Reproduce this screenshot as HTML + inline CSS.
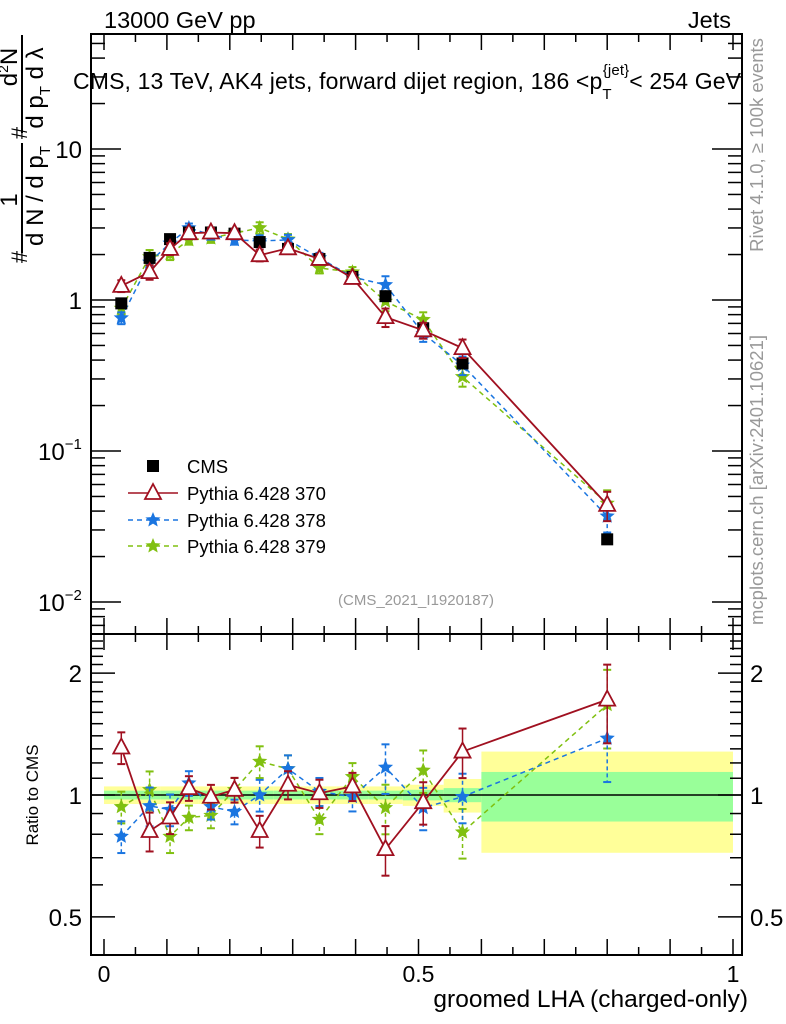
<!DOCTYPE html>
<html><head><meta charset="utf-8"><style>
html,body{margin:0;padding:0;background:#fff;}
svg{display:block;font-family:"Liberation Sans",sans-serif;}
</style></head><body>
<svg id="c" width="786" height="1024" viewBox="0 0 786 1024" xmlns="http://www.w3.org/2000/svg">
<g id="bands"></g><g id="axes"></g><g id="marks"></g><g id="labels"></g>
</svg>
<script>
const binEdges=[0,0.055,0.09,0.12,0.15,0.19,0.225,0.27,0.315,0.37,0.42,0.475,0.54,0.6,1.0];
const cmsVals=[0.95,1.9,2.53,2.8,2.8,2.75,2.42,2.18,1.87,1.42,1.06,0.65,0.38,0.026];
const p370Vals=[1.24,1.53,2.18,2.77,2.8,2.77,1.98,2.2,1.87,1.4,0.77,0.63,0.48,0.044];
const p378Vals=[0.76,1.78,2.38,3.0,2.7,2.5,2.46,2.5,1.9,1.42,1.26,0.6,0.37,0.037];
const p379Vals=[0.88,1.93,2.02,2.5,2.57,2.77,3.0,2.53,1.63,1.53,0.98,0.74,0.31,0.045];
const r370=[1.31,0.815,0.88,1.04,0.99,1.03,0.815,1.06,1.01,1.05,0.735,0.96,1.28,1.72];
const r378=[0.79,0.94,0.92,1.07,0.935,0.91,1.0,1.16,1.02,0.99,1.17,0.93,0.99,1.38];
const r379=[0.935,1.03,0.79,0.88,0.89,1.03,1.21,1.16,0.87,1.11,0.93,1.15,0.81,1.67];
const relErr=[0.09,0.11,0.09,0.07,0.07,0.07,0.09,0.08,0.08,0.08,0.14,0.12,0.14,0.22];
const bandTot=[0.05,0.05,0.05,0.05,0.05,0.05,0.05,0.05,0.05,0.05,0.05,0.06,0.095,0.28];
const bandStat=[0.025,0.025,0.025,0.025,0.025,0.025,0.025,0.025,0.025,0.025,0.025,0.03,0.04,0.14];

const L=91,R=742,T=34,MB=634,RB=955;
const X=v=>104+v*629;
const Y=v=>300-Math.log10(v)*151;
const RY=v=>795-Math.log10(v)*405;
const NS="http://www.w3.org/2000/svg";
function mk(tag,attrs,parent,txt){const e=document.createElementNS(NS,tag);for(const k in attrs)e.setAttribute(k,attrs[k]);if(txt!==undefined)e.textContent=txt;document.getElementById(parent).appendChild(e);return e;}

for(let i=0;i<binEdges.length-1;i++){
  const x0=X(binEdges[i]),x1=X(binEdges[i+1]);
  let e=mk('rect',{x:x0,y:RY(1+bandTot[i]),width:x1-x0,height:RY(1-bandTot[i])-RY(1+bandTot[i]),fill:'#ffff99'},'bands');
  
  
  e=mk('rect',{x:x0,y:RY(1+bandStat[i]),width:x1-x0,height:RY(1-bandStat[i])-RY(1+bandStat[i]),fill:'#99ff99'},'bands');
  
  
}
let f=mk('rect',{x:L,y:T,width:R-L,height:MB-T,fill:'none',stroke:'#000','stroke-width':2},'axes');


f=mk('rect',{x:L,y:MB,width:R-L,height:RB-MB,fill:'none',stroke:'#000','stroke-width':2},'axes');


f=mk('line',{x1:L,x2:R,y1:RY(1),y2:RY(1),stroke:'#000','stroke-width':1.5},'axes');


for(let k=0;k<=20;k++){const v=k*0.05,x=X(v),len=(k%2==0)?16:8;
  for(const [y,d] of [[T,1],[MB,-1],[MB,1],[RB,-1]]){mk('line',{x1:x,x2:x,y1:y,y2:y+d*len,stroke:'#000','stroke-width':1.5},'axes');}
}
const xTickLabels=['0','0.5','1'];const xTickVals=[0,0.5,1];
xTickVals.forEach((v,i)=>{const t=mk('text',{x:X(v),y:982,'font-size':23,'text-anchor':'middle'},'labels',xTickLabels[i]);
  
  });
for(let d=-3;d<=1;d++){for(let m=1;m<=9;m++){const v=m*Math.pow(10,d),y=Y(v);if(y<T||y>MB)continue;const len=m==1?30:14;
  mk('line',{x1:L,x2:L+len,y1:y,y2:y,stroke:'#000','stroke-width':1.5},'axes');
  mk('line',{x1:R,x2:R-len,y1:y,y2:y,stroke:'#000','stroke-width':1.5},'axes');}}
const yTickVals=[10,1,0.1,0.01];const yTickBase=['10','1','10','10'];const yTickExp=['','','−1','−2'];
yTickVals.forEach((v,i)=>{const t=mk('text',{x:82,y:Y(v)+9,'font-size':24,'text-anchor':'end'},'labels');
  
  
  const s=document.createElementNS(NS,'tspan');s.textContent=yTickBase[i];t.appendChild(s);
  if(yTickExp[i]){const e=document.createElementNS(NS,'tspan');e.setAttribute('font-size',15);e.setAttribute('dy',-11);e.textContent=yTickExp[i];t.appendChild(e);t.setAttribute('x',38);t.setAttribute('text-anchor','start');}
});
for(let k=4;k<=25;k++){const v=k/10;const y=RY(v);if(y<MB||y>RB)continue;const maj=(k==5||k==10||k==20);const len=maj?24:12;
  mk('line',{x1:L,x2:L+len,y1:y,y2:y,stroke:'#000','stroke-width':1.5},'axes');
  mk('line',{x1:R,x2:R-len,y1:y,y2:y,stroke:'#000','stroke-width':1.5},'axes');}
const rTickVals=[2,1,0.5];const rTickLabels=['2','1','0.5'];
rTickVals.forEach((v,i)=>{let t=mk('text',{x:82,y:RY(v)+9,'font-size':24,'text-anchor':'end'},'labels',rTickLabels[i]);
  
  
  t=mk('text',{x:750,y:RY(v)+9,'font-size':24,'text-anchor':'start'},'labels',rTickLabels[i]);
  
  });

function star(x,y,r,col){let p='';for(let i=0;i<10;i++){const a=-Math.PI/2+i*Math.PI/5,rr=i%2?r*0.45:r;p+=(x+rr*Math.cos(a)).toFixed(1)+','+(y+rr*Math.sin(a)).toFixed(1)+' ';}
  return mk('polygon',{points:p,fill:col},'marks');}
function marker(type,x,y,col){
  if(type=='sq')return mk('rect',{x:x-6,y:y-6,width:12,height:12,fill:'#000'},'marks');
  if(type=='tri')return mk('polygon',{points:`${x},${y-9} ${x-8},${y+6} ${x+8},${y+6}`,fill:'#fff',stroke:col,'stroke-width':1.8},'marks');
  return star(x,y,8,col);
}
const xc=[];for(let i=0;i<binEdges.length-1;i++)xc.push((binEdges[i]+binEdges[i+1])/2);
function series(vals,yf,col,type,dash,name,err){
  if(type!='sq'){const pts=vals.map((v,i)=>X(xc[i])+','+yf(v)).join(' ');
    const pl=mk('polyline',{points:pts,fill:'none',stroke:col,'stroke-width':dash?1.5:1.8,'stroke-dasharray':dash?'5,4':'none'},'marks');
    
    }
  vals.forEach((v,i)=>{const x=X(xc[i]);
    if(err){const y1=yf(v*(1+err[i])),y2=yf(v*(1-err[i]));
      mk('line',{x1:x,x2:x,y1:y1,y2:y2,stroke:col,'stroke-width':1.5,'stroke-dasharray':dash?'4,3':'none'},'marks');
      mk('line',{x1:x-4,x2:x+4,y1:y1,y2:y1,stroke:col,'stroke-width':2},'marks');
      mk('line',{x1:x-4,x2:x+4,y1:y2,y2:y2,stroke:col,'stroke-width':2},'marks');}
    const m=marker(type,x,yf(v),col);
    
    });
}
series(p379Vals,Y,'#80c010','star',true,'pythia-379',relErr);
series(p378Vals,Y,'#1a75e0','star',true,'pythia-378',relErr);
series(cmsVals,Y,'#000','sq',false,'cms-data',null);
series(p370Vals,Y,'#a01020','tri',false,'pythia-370',relErr);
series(r379,RY,'#80c010','star',true,'ratio-pythia-379',relErr);
series(r378,RY,'#1a75e0','star',true,'ratio-pythia-378',relErr);
series(r370,RY,'#a01020','tri',false,'ratio-pythia-370',relErr);

const legNames=['CMS','Pythia 6.428 370','Pythia 6.428 378','Pythia 6.428 379'];
const legCols=['#000','#a01020','#1a75e0','#80c010'];const legTypes=['sq','tri','star','star'];const legY=[466,493,520,546];
legNames.forEach((n,i)=>{
  if(i>0){mk('line',{x1:128,x2:178,y1:legY[i],y2:legY[i],stroke:legCols[i],'stroke-width':1.5,'stroke-dasharray':i>1?'5,4':'none'},'marks');}
  const m=marker(legTypes[i],153,legY[i],legCols[i]);
  
  
  const t=mk('text',{x:187,y:legY[i]+7,'font-size':18.5},'labels',n);
  
  
});
</script>
<svg width="786" height="1024" style="position:absolute;left:0;top:0" xmlns="http://www.w3.org/2000/svg">
<text x="104" y="28" font-size="23.5" font-family="Liberation Sans">13000 GeV pp</text>
<text x="731" y="28" font-size="23.5" font-family="Liberation Sans" text-anchor="end">Jets</text>
<text x="73" y="89" font-size="23" font-family="Liberation Sans" textLength="668">CMS, 13 TeV, AK4 jets, forward dijet region, 186 &lt;p<tspan dy="10" font-size="15">T</tspan><tspan dy="-24" dx="-9" font-size="15">{jet}</tspan><tspan dy="14">&lt; 254 GeV</tspan></text>
<text x="416" y="605" font-size="15" fill="#999" font-family="Liberation Sans" text-anchor="middle">(CMS_2021_I1920187)</text>
<text x="748" y="1007" font-size="24.5" font-family="Liberation Sans" text-anchor="end">groomed LHA (charged-only)</text>
<text transform="translate(38,795) rotate(-90)" font-size="17" font-family="Liberation Sans" text-anchor="middle">Ratio to CMS</text>
<text transform="translate(763,145) rotate(-90)" font-size="18.5" fill="#999" font-family="Liberation Sans" text-anchor="middle">Rivet 4.1.0, ≥ 100k events</text>
<text transform="translate(763,480) rotate(-90)" font-size="18.5" fill="#999" font-family="Liberation Sans" text-anchor="middle">mcplots.cern.ch [arXiv:2401.10621]</text>
<g font-family="Liberation Sans" font-size="24">
<line x1="22" y1="35" x2="22" y2="133" stroke="#000" stroke-width="2"/>
<line x1="22" y1="143" x2="22" y2="253" stroke="#000" stroke-width="2"/>
<text transform="translate(17,67) rotate(-90)" text-anchor="middle">d<tspan font-size="14" dy="-9">2</tspan><tspan dy="9">N</tspan></text>
<text transform="translate(43,88) rotate(-90)" text-anchor="middle">d p<tspan font-size="15" dy="7">T</tspan><tspan dy="-7">  d λ</tspan></text>
<text transform="translate(27,133) rotate(-90)" text-anchor="middle" font-size="22">#</text>
<text transform="translate(17,200) rotate(-90)" text-anchor="middle">1</text>
<text transform="translate(43,196) rotate(-90)" text-anchor="middle">d N / d p<tspan font-size="15" dy="7">T</tspan></text>
<text transform="translate(27,257) rotate(-90)" text-anchor="middle" font-size="22">#</text>
</g>
</svg>
</body></html>
